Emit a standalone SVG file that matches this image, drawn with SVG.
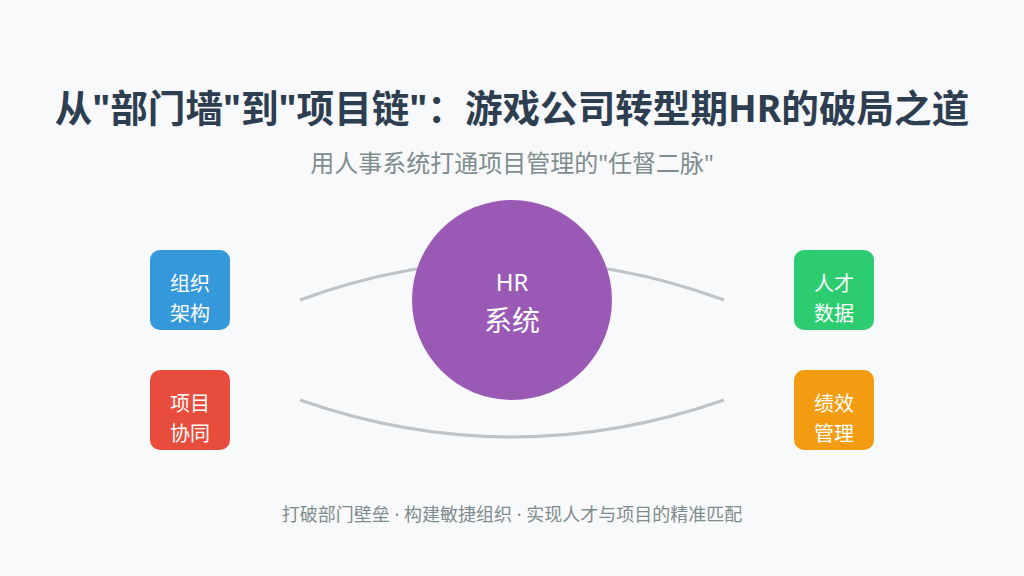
<svg xmlns="http://www.w3.org/2000/svg" width="1024" height="576" viewBox="0 0 1024 576">
<style>
text{font-family:"Noto Sans","Noto Sans CJK SC",sans-serif;text-anchor:middle;dominant-baseline:central}
.title{font-size:37.6px;font-weight:bold;fill:#2c3e50}
.sub{font-size:24px;fill:#7f8c8d}
.foot{font-size:18px;fill:#7f8c8d}
.nt{font-size:20px;fill:#ffffff}
.conn{fill:none;stroke:#bdc3c7;stroke-width:3}
</style>
<rect width="1024" height="576" fill="#f8f9fa"/>
<text class="title" x="512" y="107">从"部门墙"到"项目链"：游戏公司转型期HR的破局之道</text>
<text class="sub" x="512" y="162">用人事系统打通项目管理的"任督二脉"</text>
<g id="connectors">
<path class="conn" d="M300,300 Q512,222 724,300"/>
<path class="conn" d="M300,400 Q512,474 724,400"/>
</g>
<g id="hr">
<circle cx="512" cy="300" r="100" fill="#9b59b6"/>
<text x="512" y="281" style="font-size:24px;fill:#fff">HR</text>
<text x="512" y="320" style="font-size:28px;fill:#fff">系统</text>
</g>
<g id="org">
<rect x="150" y="250" width="80" height="80" rx="10" fill="#3498db"/>
<text class="nt" x="190" y="283">组织</text>
<text class="nt" x="190" y="313">架构</text>
</g>
<g id="proj">
<rect x="150" y="370" width="80" height="80" rx="10" fill="#e74c3c"/>
<text class="nt" x="190" y="403">项目</text>
<text class="nt" x="190" y="433">协同</text>
</g>
<g id="talent">
<rect x="794" y="250" width="80" height="80" rx="10" fill="#2ecc71"/>
<text class="nt" x="834" y="283">人才</text>
<text class="nt" x="834" y="313">数据</text>
</g>
<g id="perf">
<rect x="794" y="370" width="80" height="80" rx="10" fill="#f39c12"/>
<text class="nt" x="834" y="403">绩效</text>
<text class="nt" x="834" y="433">管理</text>
</g>
<text class="foot" x="512" y="514">打破部门壁垒 · 构建敏捷组织 · 实现人才与项目的精准匹配</text>
</svg>
